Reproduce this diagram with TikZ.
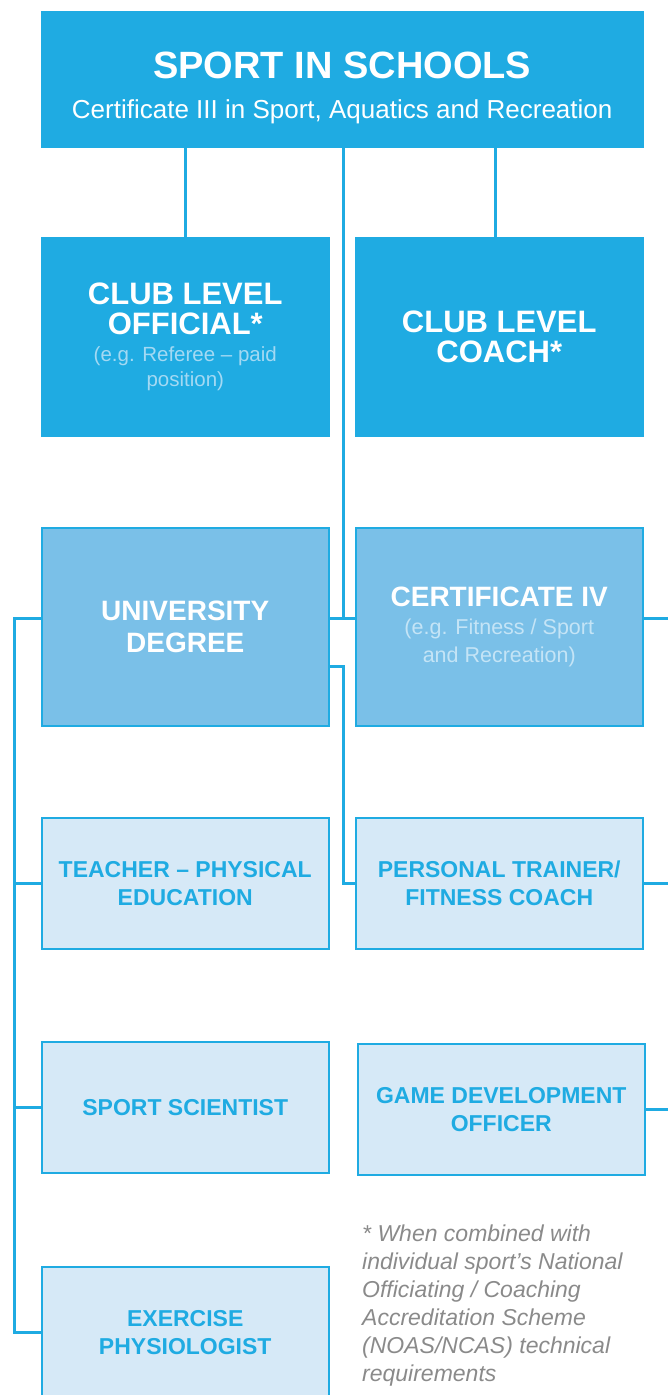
\documentclass[tikz,border=0pt]{standalone}
\usepackage{fontspec}
\setmainfont{Liberation Sans}
\definecolor{sisblue}{HTML}{1FABE2}
\definecolor{midblue}{HTML}{7AC0E8}
\definecolor{paleblue}{HTML}{D6E9F7}
\definecolor{dimtext}{HTML}{A3D9F3}
\definecolor{softtext}{HTML}{C4E4F6}
\definecolor{notegrey}{HTML}{8A8A8A}
\newcommand{\smallnote}{\fontsize{20.5}{24}\selectfont\mdseries}
\tikzset{
  box/.style={anchor=north west, minimum width=287pt, minimum height=198pt,
    align=center, inner sep=0pt, line width=1.5pt},
  darkbox/.style={box, fill=sisblue, draw=sisblue, text=white,
    font=\bfseries\fontsize{31}{30}\selectfont},
  midbox/.style={box, fill=midblue, draw=sisblue, text=white,
    font=\bfseries\fontsize{28}{32}\selectfont},
  palebox/.style={box, minimum height=131pt, fill=paleblue, draw=sisblue,
    text=sisblue, font=\bfseries\fontsize{23}{28}\selectfont},
  link/.style={draw=sisblue, line width=3pt},
  note/.style={anchor=north west, align=left, inner sep=0pt, text=notegrey,
    font=\itshape\fontsize{23}{28}\selectfont}
}
\begin{document}
\begin{tikzpicture}[x=1pt,y=-1pt]
\useasboundingbox (0,0) rectangle (668,1395);

% Top box
\node[anchor=north west, minimum width=602pt, minimum height=136pt, inner sep=0pt,
  fill=sisblue, draw=sisblue, text=white, align=center] (school) at (41,11)
  {\rule{0pt}{44pt}\bfseries\fontsize{38}{40}\selectfont SPORT IN SCHOOLS\\[20pt]
   \fontsize{26}{28}\selectfont Certificate III in Sport, Aquatics and Recreation};

% Club level
\node[darkbox] (official) at (41,237)
  {CLUB LEVEL\\OFFICIAL*\\[-3pt]{\smallnote\color{dimtext}(e.g. Referee -- paid}\\[-5pt]
   {\smallnote\color{dimtext}position)}};
\node[darkbox] (coach) at (355,237) {CLUB LEVEL\\COACH*};

% Further study
\node[midbox] (uni) at (41,527) {UNIVERSITY\\DEGREE};
\node[midbox] (cert) at (355,527)
  {CERTIFICATE IV\\[-4pt]{\fontsize{21.5}{24}\selectfont\mdseries\color{softtext}(e.g. Fitness / Sport}\\[-4pt]
   {\fontsize{21.5}{24}\selectfont\mdseries\color{softtext}and Recreation)}};

% Careers
\node[palebox] (teacher) at (41,817) {TEACHER -- PHYSICAL\\EDUCATION};
\node[palebox] (trainer) at (355,817) {PERSONAL TRAINER/\\FITNESS COACH};
\node[palebox] (scientist) at (41,1041) {SPORT SCIENTIST};
\node[palebox] (gamedev) at (357,1043) {GAME DEVELOPMENT\\OFFICER};
\node[palebox] (physio) at (41,1266) {EXERCISE\\PHYSIOLOGIST};

% Footnote
\node[note] (footnote) at (362,1225)
  {* When combined with\\individual sport’s National\\Officiating / Coaching\\
   Accreditation Scheme\\(NOAS/NCAS) technical\\requirements};

% Coordinates
\coordinate (hub) at (343,618);   % centre line meets the T
\coordinate (lbus) at (14,618);   % top of left rail
\coordinate (bend) at (343,666);  % second branch to trainer
\coordinate (redge) at (668,618); % right rail, off the page

% Connectors from the top box
\draw[link] (school.south -| official.north) -- (official.north);
\draw[link] (school.south -| 495,0) -- (coach.north -| 495,0);
\draw[link] (school.south -| hub) -- (hub);

% T between the two study boxes
\draw[link] (uni.east |- hub) -- (cert.west |- hub);
\draw[link] (cert.east |- hub) -- (redge);

% Left rail
\draw[link] (uni.west |- hub) -- (lbus) |- (physio.west);
\draw[link] (lbus |- teacher.west) -- (teacher.west);
\draw[link] (lbus |- scientist.west) -- (scientist.west);

% Right side
\draw[link] (uni.east |- bend) -- (bend) |- (trainer.west);
\draw[link] (trainer.east) -- (trainer.east -| redge);
\draw[link] (gamedev.east) -- (gamedev.east -| redge);
\end{tikzpicture}
\end{document}
